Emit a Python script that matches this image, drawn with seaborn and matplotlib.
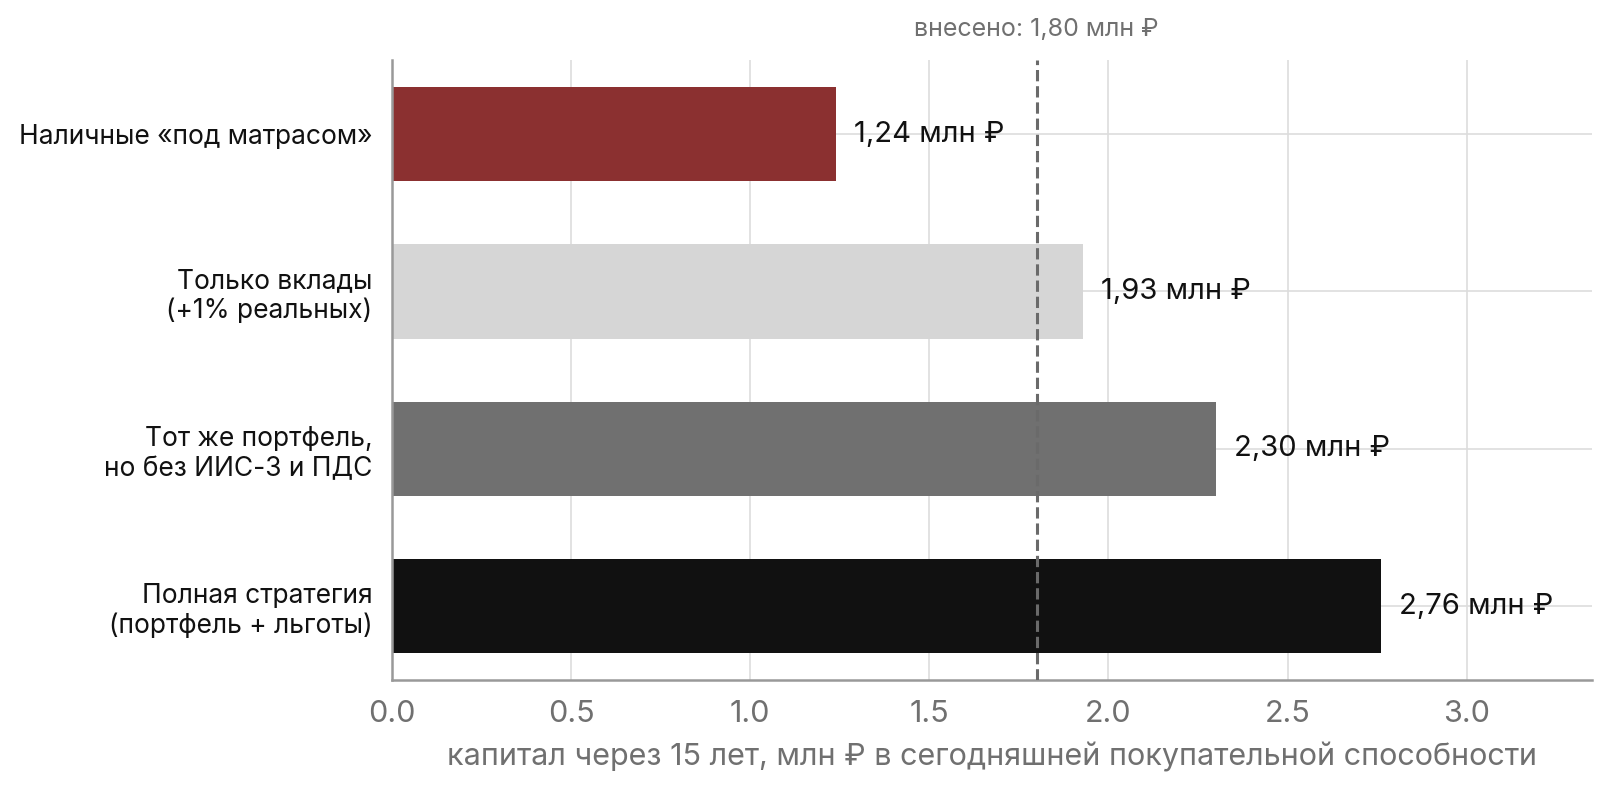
import matplotlib
matplotlib.use("Agg")
import matplotlib.pyplot as plt
import seaborn as sns
import pandas as pd

categories = [
    "Наличные «под матрасом»",
    "Только вклады\n(+1% реальных)",
    "Тот же портфель,\nно без ИИС-3 и ПДС",
    "Полная стратегия\n(портфель + льготы)",
]
values = [1.24, 1.93, 2.30, 2.76]
value_labels = ["1,24 млн ₽", "1,93 млн ₽", "2,30 млн ₽", "2,76 млн ₽"]
colors = ["#8B3030", "#D6D6D6", "#707070", "#111111"]
contributed = 1.80
contributed_label = "внесено: 1,80 млн ₽"
xticks = [0.0, 0.5, 1.0, 1.5, 2.0, 2.5, 3.0]
xlabel = "капитал через 15 лет, млн ₽ в сегодняшней покупательной способности"

sns.set_theme(style="whitegrid")
plt.rcParams["font.family"] = ["Inter", "DejaVu Sans"]

df = pd.DataFrame({"cat": categories, "val": values})

fig = plt.figure(figsize=(8.065, 3.95), dpi=200)
ax = fig.add_axes([0.243, 0.139, 0.744, 0.785])

sns.barplot(data=df, x="val", y="cat", hue="cat", palette=colors,
            legend=False, width=0.6, ax=ax, orient="h", saturation=1,
            linewidth=0)

ax.set_xlim(0, 3.35)
ax.set_ylim(3.47, -0.47)
ax.set_xticks(xticks)
ax.set_xticklabels([f"{t:.1f}" for t in xticks])
ax.set_xlabel(xlabel, fontsize=11, color="#707070", labelpad=5)
ax.set_ylabel("")

ax.grid(True, axis="both", color="#DDDDDD", linewidth=0.6)
ax.set_axisbelow(True)
for s in ["top", "right"]:
    ax.spines[s].set_visible(False)
for s in ["left", "bottom"]:
    ax.spines[s].set_color("#999999")
    ax.spines[s].set_linewidth(0.9)

ax.tick_params(axis="x", colors="#707070", labelsize=11, length=4, width=0.9,
               color="#999999", pad=3)
ax.tick_params(axis="y", labelcolor="#111111", labelsize=9.5, length=4, width=0.9,
               color="#999999", pad=3)

ax.axvline(contributed, color="#6A6A6A", linestyle="--", linewidth=1.1, zorder=3)
ax.text(contributed, 1.05, contributed_label, transform=ax.get_xaxis_transform(),
        ha="center", va="center", fontsize=9, color="#707070")

for i, (v, t) in enumerate(zip(values, value_labels)):
    ax.text(v + 0.05, i, t, ha="left", va="center", fontsize=10.5, color="#111111")

fig.savefig("out.png", dpi=200)
